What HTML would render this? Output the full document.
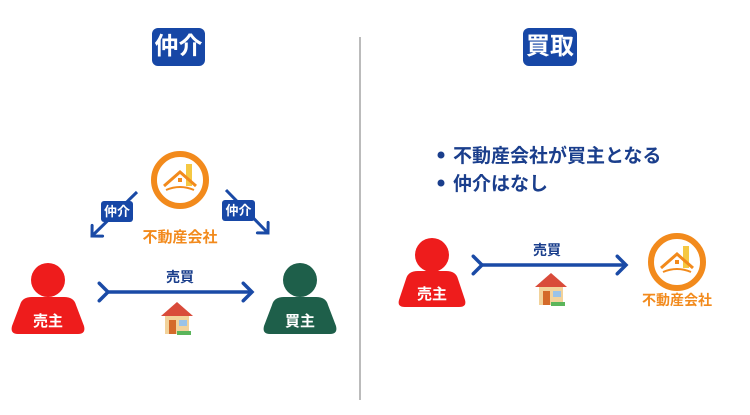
<!DOCTYPE html>
<html><head><meta charset="utf-8"><style>
body{margin:0;width:750px;height:415px;background:#fff;position:relative;overflow:hidden;font-family:"Liberation Sans","Noto Sans CJK JP",sans-serif;font-weight:bold}
.a{position:absolute}
.badge{background:#1747a6;color:#fff;border-radius:6px;text-align:center}
</style></head><body>
<div class="a badge" style="left:152px;top:28px;width:53px;height:38px;font-size:24px;line-height:38px">仲介</div>
<div class="a badge" style="left:523px;top:28px;width:54px;height:38px;font-size:24px;line-height:38px">買取</div>
<div class="a" style="left:359px;top:37px;width:2px;height:363px;background:#bbb"></div>

<svg class="a" style="left:0;top:0" width="750" height="415">
<defs>
<marker id="m" markerWidth="6" markerHeight="6" refX="3" refY="3" orient="auto" markerUnits="strokeWidth"><path d="M0.5,0.5 L3,3 L0.5,5.5" fill="none" stroke="#1a4aa6" stroke-width="1" stroke-linecap="round"/></marker>
<g id="logo"><circle r="26" fill="none" stroke="#f28a1c" stroke-width="6"/><rect x="6" y="-16" width="6" height="22" fill="#f5c842"/><path d="M-16,6 L0,-8 L16,6" fill="none" stroke="#f28a1c" stroke-width="3"/><path d="M-14,10 Q0,4 14,10" fill="none" stroke="#f28a1c" stroke-width="2"/><rect x="-2" y="-2" width="4" height="4" fill="#f28a1c"/></g>
<g id="house"><path d="M-16,0 L0,-14 L16,0 Z" fill="#d94b3a"/><rect x="-12" y="0" width="24" height="18" fill="#f2d29a"/><rect x="-8" y="4" width="7" height="14" fill="#d46a2a"/><rect x="2" y="4" width="8" height="6" fill="#9ac3e8"/><rect x="0" y="15" width="14" height="4" fill="#5bb55b"/></g>
</defs>
<use href="#logo" x="180" y="180"/>
<line x1="137" y1="192" x2="92" y2="236" stroke="#1a4aa6" stroke-width="3" marker-end="url(#m)"/>
<line x1="226" y1="190" x2="268" y2="233" stroke="#1a4aa6" stroke-width="3" marker-end="url(#m)"/>
<line x1="108" y1="292" x2="252" y2="292" stroke="#1a4aa6" stroke-width="3.5" marker-end="url(#m)" marker-start="url(#m)"/>
<use href="#house" x="177" y="316"/>
<circle cx="48" cy="280" r="17" fill="#ee1c1c"/>
<path d="M20,305 Q22,297 32,297 L64,297 Q74,297 76,305 L84,326 Q86,334 78,334 L18,334 Q10,334 12,326 Z" fill="#ee1c1c"/>
<circle cx="300" cy="280" r="17" fill="#1e5f4a"/>
<path d="M272,305 Q274,297 284,297 L316,297 Q326,297 328,305 L336,326 Q338,334 330,334 L270,334 Q262,334 264,326 Z" fill="#1e5f4a"/>

<use href="#logo" x="677" y="262"/>
<line x1="482" y1="265" x2="626" y2="265" stroke="#1a4aa6" stroke-width="3.5" marker-end="url(#m)" marker-start="url(#m)"/>
<use href="#house" x="551" y="287"/>
<circle cx="432" cy="255" r="17" fill="#ee1c1c"/>
<path d="M406,279 Q408,271 418,271 L446,271 Q456,271 458,279 L465,300 Q467,307 459,307 L405,307 Q397,307 399,300 Z" fill="#ee1c1c"/>
<circle cx="441" cy="155" r="3.5" fill="#1a3e8c"/>
<circle cx="441" cy="183" r="3.5" fill="#1a3e8c"/>
</svg>

<div class="a" style="left:101px;top:201px;width:32px;height:21px;background:#1747a6;color:#fff;font-size:13px;line-height:21px;text-align:center;border-radius:3px">仲介</div>
<div class="a" style="left:222px;top:200px;width:33px;height:21px;background:#1747a6;color:#fff;font-size:13px;line-height:21px;text-align:center;border-radius:3px">仲介</div>
<div class="a" style="left:130px;top:226px;width:100px;text-align:center;color:#f28a1c;font-size:15px">不動産会社</div>
<div class="a" style="left:150px;top:267px;width:60px;text-align:center;color:#1a3e8c;font-size:14px">売買</div>
<div class="a" style="left:18px;top:310px;width:60px;text-align:center;color:#fff;font-size:15px">売主</div>
<div class="a" style="left:270px;top:310px;width:60px;text-align:center;color:#fff;font-size:15px">買主</div>

<div class="a" style="left:453px;top:143px;color:#1a3e8c;font-size:19px;line-height:28px">不動産会社が買主となる<br>仲介はなし</div>
<div class="a" style="left:517px;top:240px;width:60px;text-align:center;color:#1a3e8c;font-size:14px">売買</div>
<div class="a" style="left:402px;top:283px;width:60px;text-align:center;color:#fff;font-size:15px">売主</div>
<div class="a" style="left:627px;top:290px;width:100px;text-align:center;color:#f28a1c;font-size:14px">不動産会社</div>
</body></html>
